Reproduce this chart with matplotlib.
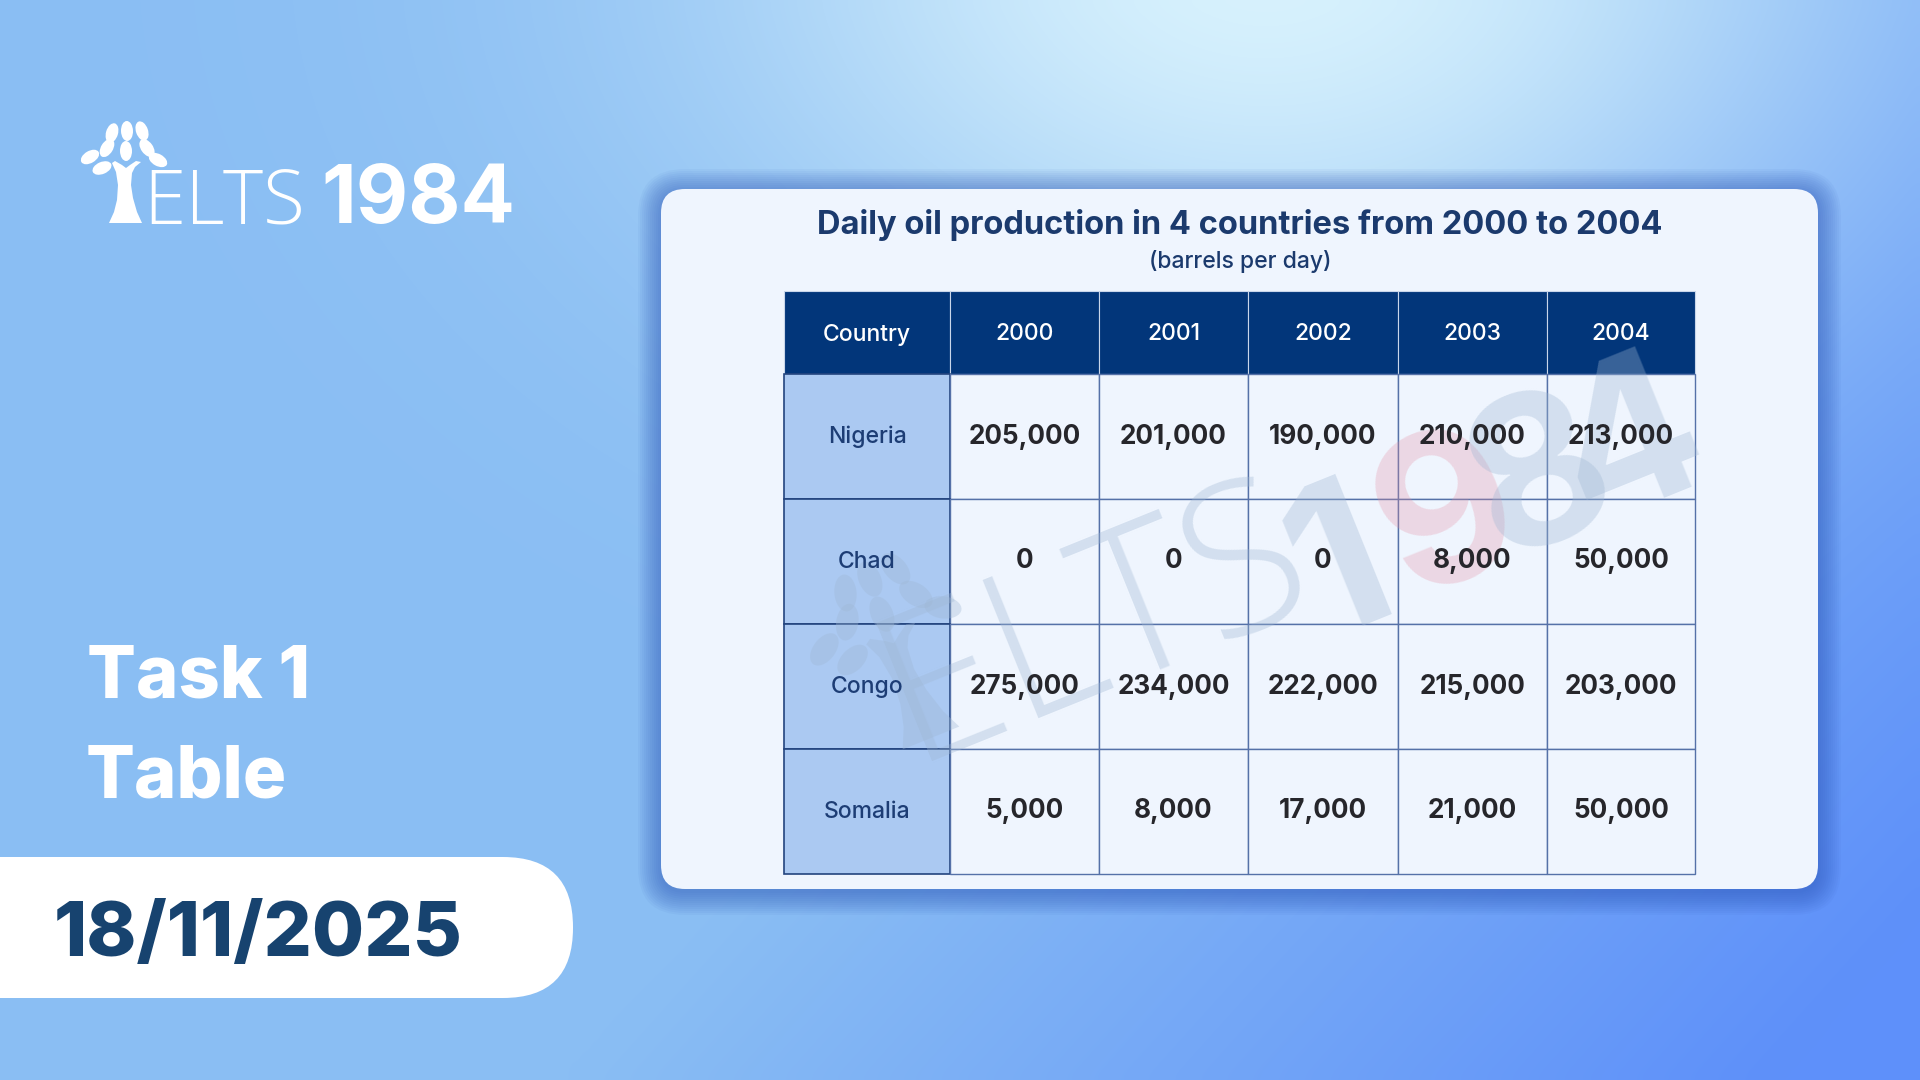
import numpy as np
import matplotlib.pyplot as plt
from matplotlib.patches import FancyBboxPatch, Rectangle, Ellipse, Polygon
from matplotlib.transforms import Affine2D

plt.rcParams['font.family'] = ['Inter', 'DejaVu Sans']

# data
title = "Daily oil production in 4 countries from 2000 to 2004"
subtitle = "(barrels per day)"
years = ["2000", "2001", "2002", "2003", "2004"]
countries = ["Nigeria", "Chad", "Congo", "Somalia"]
nigeria = [205000, 201000, 190000, 210000, 213000]
chad = [0, 0, 0, 8000, 50000]
congo = [275000, 234000, 222000, 215000, 203000]
somalia = [5000, 8000, 17000, 21000, 50000]
values = [nigeria, chad, congo, somalia]

W, H = 1920, 1080
fig = plt.figure(figsize=(19.2, 10.8), dpi=100)
ax = fig.add_axes([0, 0, 1, 1])
ax.set_xlim(0, W)
ax.set_ylim(H, 0)
ax.axis('off')

# background gradient
gx, gy = np.meshgrid(np.linspace(0, 1, 192), np.linspace(0, 1, 108))
c_left = np.array([138, 190, 243]) / 255
c_light = np.array([216, 242, 253]) / 255
c_deep = np.array([94, 144, 250]) / 255
wd = np.clip((gx - 0.6) * 1.6 + (gy - 0.4) * 0.8, 0, 1)[..., None]
wl = np.exp(-((gx - 0.66) ** 2 / (2 * 0.2 ** 2) + (gy + 0.05) ** 2 / (2 * 0.25 ** 2)))[..., None]
bg = c_left * (1 - wd) + c_deep * wd
bg = bg * (1 - wl) + c_light * wl
ax.imshow(bg, extent=[0, W, H, 0], interpolation='bicubic', zorder=0, aspect='auto')


def draw_tree(cx, by, s, color, alpha, angle=0, z=5):
    tr = Affine2D().scale(s).rotate_deg(-angle).translate(cx, by) + ax.transData
    trunk = [(-16.5, 0), (16.5, 0), (11.5, -11), (7.5, -25), (5.5, -38), (6.5, -50), (9.5, -56),
             (15.5, -61), (10.5, -62), (4.5, -58), (0.5, -55), (-3.5, -58), (-10.5, -62),
             (-13.5, -60), (-9.5, -51), (-7.5, -38), (-8.5, -23), (-11.5, -11)]
    ax.add_patch(Polygon(trunk, closed=True, fc=color, ec='none', alpha=alpha, transform=tr, zorder=z))
    leaves = [(-13.5, -90), (1.5, -92), (16.5, -92), (-18.5, -75), (0.5, -72), (21.5, -75),
              (-35.5, -66), (32.5, -63), (-23.5, -55)]
    for lx, ly in leaves:
        ang = np.degrees(np.arctan2(lx, -(ly + 45)))
        ax.add_patch(Ellipse((lx, ly), 12, 20, angle=-ang, fc=color, ec='none', alpha=alpha,
                             transform=tr, zorder=z))


# logo
draw_tree(125.5, 223, 1.0, 'white', 1.0)
ax.text(143, 223, "ELTS", color='white', fontsize=55, fontweight='light', ha='left', va='baseline',
        family=['Open Sans', 'DejaVu Sans'])
ax.text(321, 223, "1984", color='white', fontsize=58, fontweight='bold', ha='left', va='baseline')

# task labels
ax.text(87, 697, "Task 1", color='white', fontsize=52, fontweight='heavy', ha='left', va='baseline')
ax.text(86, 798, "Table", color='white', fontsize=52, fontweight='heavy', ha='left', va='baseline')

# date pill
ax.add_patch(FancyBboxPatch((-100, 857), 673, 141, boxstyle="round,pad=0,rounding_size=70",
                            fc='white', ec='none', zorder=2))
ax.text(54, 956, "18/11/2025", color='#17436f', fontsize=54.5, fontweight='heavy', ha='left',
        va='baseline', zorder=3)

# card shadow and card
cx0, cy0, cx1, cy1 = 661, 189, 1818, 889
for i in range(12):
    p = 1 + i * 2.0
    ax.add_patch(FancyBboxPatch((cx0 - p, cy0 - p + 3), cx1 - cx0 + 2 * p, cy1 - cy0 + 2 * p,
                                boxstyle=f"round,pad=0,rounding_size={24 + p}",
                                fc='#2a55b8', ec='none', alpha=0.05, zorder=1))
ax.add_patch(FancyBboxPatch((cx0, cy0), cx1 - cx0, cy1 - cy0, boxstyle="round,pad=0,rounding_size=24",
                            fc='#eff5fe', ec='none', zorder=2))

ax.text(1240, 234, title, color='#1b3a6d', fontsize=23.5, fontweight='bold', ha='center', va='baseline',
        zorder=6)
ax.text(1240, 268, subtitle, color='#1b3a6d', fontsize=16.5, fontweight='medium', ha='center',
        va='baseline', zorder=6)

# table
col_edges = [784, 950, 1099, 1248, 1398, 1547, 1695]
row_edges = [291, 374, 499, 624, 749, 874]
header = ["Country"] + years
for j, lab in enumerate(header):
    x0, x1 = col_edges[j], col_edges[j + 1]
    ax.add_patch(Rectangle((x0, row_edges[0]), x1 - x0, row_edges[1] - row_edges[0],
                           fc='#02367a', ec='#c9d6ea', lw=0.8, zorder=3))
    ax.text((x0 + x1) / 2, (row_edges[0] + row_edges[1]) / 2 + 2, lab, color='white', fontsize=16.5,
            fontweight='medium', ha='center', va='center', zorder=6)

for i, name in enumerate(countries):
    y0, y1 = row_edges[i + 1], row_edges[i + 2]
    ax.add_patch(Rectangle((col_edges[0], y0), col_edges[1] - col_edges[0], y1 - y0,
                           fc='#abc9f2', ec='#23447e', lw=1.2, zorder=3))
    ax.text((col_edges[0] + col_edges[1]) / 2, (y0 + y1) / 2, name, color='#1d3d75', fontsize=16.5,
            fontweight='medium', ha='center', va='center', zorder=6)
    for j, v in enumerate(values[i]):
        x0, x1 = col_edges[j + 1], col_edges[j + 2]
        ax.add_patch(Rectangle((x0, y0), x1 - x0, y1 - y0, fc='#eff5fe', ec='#5571a8', lw=1.0, zorder=3))
        ax.text((x0 + x1) / 2, (y0 + y1) / 2, f"{v:,}", color='#26262b', fontsize=18.8,
                fontweight='bold', ha='center', va='center', zorder=6)

# watermark (kept below the header band)
wm_rot = 22
wm_col = '#9fb7d3'
draw_tree(931, 738, 1.85, wm_col, 0.35, angle=wm_rot, z=4)
ax.text(1095, 628, "ELTS", color=wm_col, alpha=0.35, fontsize=150, fontweight='light', rotation=wm_rot,
        ha='center', va='center', rotation_mode='anchor', zorder=4, family=['Open Sans', 'DejaVu Sans'])
ax.text(1342, 572, "1", color=wm_col, alpha=0.35, fontsize=150, fontweight='bold', rotation=wm_rot,
        ha='center', va='center', rotation_mode='anchor', zorder=4)
ax.text(1450, 522, "9", color='#e48ba0', alpha=0.28, fontsize=150, fontweight='bold', rotation=wm_rot,
        ha='center', va='center', rotation_mode='anchor', zorder=4)
ax.text(1542, 484, "8", color=wm_col, alpha=0.35, fontsize=150, fontweight='bold', rotation=wm_rot,
        ha='center', va='center', rotation_mode='anchor', zorder=4)
ax.text(1632, 448, "4", color=wm_col, alpha=0.35, fontsize=150, fontweight='bold', rotation=wm_rot,
        ha='center', va='center', rotation_mode='anchor', zorder=4)

fig.savefig("out.png", dpi=100)
